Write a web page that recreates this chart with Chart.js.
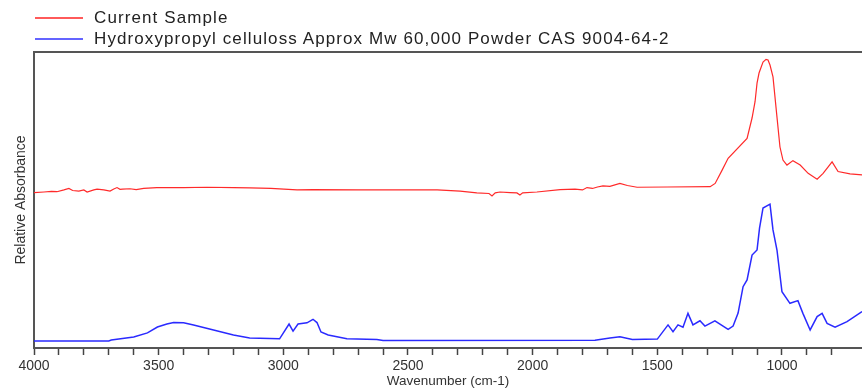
<!DOCTYPE html>
<html lang="en">
<head>
  <meta charset="utf-8">
  <title>IR Spectrum</title>
  <script src="https://cdnjs.cloudflare.com/ajax/libs/Chart.js/4.4.1/chart.umd.min.js"></script>
  <style>
    body { margin: 0; background: #fff; font-family: "Liberation Sans", Arial, sans-serif; }
    #wrap { position: relative; width: 862px; height: 389px; }
    .leg { position: absolute; left: 0; height: 20px; line-height: 20px; font-size: 17px; letter-spacing: 1.1px; color: #222; white-space: nowrap; }
    .leg span.ln { position: absolute; left: 35px; top: 9px; width: 48px; height: 2px; }
    .leg span.tx { position: absolute; left: 94px; top: 0; }
  </style>
</head>
<body>
  <div id="wrap">
    <canvas id="myChart"></canvas>
    <div class="leg" style="top:8px"><span class="ln" style="background:#ff5a5a"></span><span class="tx">Current Sample</span></div>
    <div class="leg" style="top:29px"><span class="ln" style="background:#6464ff"></span><span class="tx">Hydroxypropyl celluloss Approx Mw 60,000 Powder CAS 9004-64-2</span></div>
  </div>
  <script>
// wavenumbers (cm-1) and relative absorbance
var sampleWn = [4000, 3960, 3930, 3908, 3880, 3860, 3845, 3820, 3800, 3787, 3760, 3747, 3720, 3695, 3680, 3667, 3655, 3645, 3615, 3590, 3560, 3507, 3400, 3306, 3200, 3134, 3050, 2945, 2881, 2700, 2500, 2383, 2291, 2224, 2175, 2163, 2150, 2131, 2090, 2063, 2051, 2040, 1983, 1890, 1830, 1800, 1782, 1760, 1740, 1718, 1690, 1650, 1620, 1581, 1461, 1288, 1268, 1240, 1216, 1140, 1120, 1108, 1100, 1092, 1076, 1064, 1056, 1048, 1036, 1020, 1008, 996, 980, 956, 927, 895, 859, 835, 799, 775, 727, 679];
var sampleAbs = [52.5, 52.7, 52.9, 52.8, 53.4, 53.9, 53.2, 53.0, 53.4, 52.7, 53.4, 53.7, 53.4, 53.0, 53.7, 54.2, 53.6, 53.7, 53.8, 53.5, 53.9, 54.2, 54.2, 54.3, 54.2, 54.1, 53.9, 53.4, 53.5, 53.4, 53.4, 53.4, 53.0, 52.4, 52.2, 51.4, 52.4, 52.7, 52.5, 52.4, 51.7, 52.4, 52.7, 53.5, 53.7, 53.4, 54.2, 53.9, 54.4, 54.8, 54.6, 55.6, 54.9, 54.3, 54.4, 54.5, 55.6, 60.1, 64.1, 70.8, 77.7, 83.2, 89.5, 92.9, 96.6, 97.5, 97.3, 95.6, 91.6, 78.0, 67.9, 63.5, 61.8, 63.3, 61.8, 59.0, 57.0, 59.0, 62.9, 59.6, 58.8, 58.5];

var refWn = [4000, 3700, 3690, 3600, 3545, 3505, 3467, 3440, 3400, 3360, 3280, 3200, 3135, 3015, 2977, 2961, 2941, 2905, 2881, 2865, 2849, 2820, 2745, 2625, 2600, 1750, 1690, 1650, 1600, 1500, 1457, 1437, 1417, 1397, 1377, 1357, 1329, 1309, 1269, 1216, 1196, 1176, 1156, 1140, 1120, 1100, 1090, 1076, 1048, 1036, 1020, 1000, 968, 936, 916, 887, 859, 839, 819, 787, 739, 679];
var refAbs = [2.4, 2.4, 2.7, 3.7, 5.1, 7.1, 8.1, 8.6, 8.5, 7.8, 6.1, 4.4, 3.4, 3.1, 8.1, 5.7, 8.1, 8.5, 9.7, 8.6, 5.4, 4.4, 3.1, 2.9, 2.5, 2.6, 3.4, 3.8, 2.9, 3.0, 7.8, 5.5, 7.8, 7.0, 11.7, 7.8, 9.2, 7.4, 9.2, 6.3, 7.4, 11.8, 20.7, 23.0, 31.4, 33.1, 40.5, 47.3, 48.6, 39.9, 33.1, 19.0, 15.1, 16.0, 11.7, 6.1, 10.6, 11.7, 8.3, 7.0, 8.9, 12.3];

var seriesNames = ['Current Sample', 'Hydroxypropyl celluloss Approx Mw 60,000 Powder CAS 9004-64-2'];

function pts(xs, ys) {
  return xs.map(function (x, i) { return { x: x, y: ys[i] }; });
}

var topBorder = {
  id: 'topBorder',
  afterDraw: function (chart) {
    var a = chart.chartArea, c = chart.ctx;
    c.save();
    c.strokeStyle = '#555';
    c.lineWidth = 2;
    c.beginPath();
    c.moveTo(a.left - 1, a.top);
    c.lineTo(a.right, a.top);
    c.stroke();
    c.restore();
  }
};

var ctx = document.getElementById('myChart');
var myChart = new Chart(ctx, {
  type: 'scatter',
  data: {
    datasets: [
      { label: seriesNames[0], data: pts(sampleWn, sampleAbs), showLine: true, borderColor: '#ff2a2a', borderWidth: 1.2, pointRadius: 0, tension: 0 },
      { label: seriesNames[1], data: pts(refWn, refAbs), showLine: true, borderColor: '#2a2aff', borderWidth: 1.5, pointRadius: 0, tension: 0 }
    ]
  },
  options: {
    responsive: true,
    maintainAspectRatio: false,
    animation: false,
    layout: { padding: { top: 52, right: 0, left: 0, bottom: 0 } },
    plugins: { legend: { display: false }, tooltip: { enabled: false } },
    scales: {
      x: {
        type: 'linear',
        reverse: true,
        min: 679,
        max: 4000,
        afterFit: function (s) { s.height = 41; },
        afterBuildTicks: function (s) { s.ticks = s.ticks.filter(function (t) { return t.value % 100 === 0; }); },
        ticks: {
          stepSize: 100,
          autoSkip: false,
          maxRotation: 0,
          padding: 3,
          color: '#333',
          font: { family: '"Liberation Sans", Arial', size: 14 },
          callback: function (v) { return v % 500 === 0 ? String(v) : ''; }
        },
        grid: { display: true, drawOnChartArea: false, drawTicks: true, tickLength: 7, tickColor: '#444', tickWidth: 1.5 },
        border: { display: true, color: '#555', width: 2 },
        title: { display: true, text: 'Wavenumber (cm-1)', color: '#333', padding: { top: 0, bottom: 0 }, font: { family: '"Liberation Sans", Arial', size: 13.5 } }
      },
      y: {
        min: 0,
        max: 100,
        afterFit: function (s) { s.width = 34; },
        ticks: { display: false },
        grid: { display: false },
        border: { display: true, color: '#555', width: 2 },
        title: { display: true, text: 'Relative Absorbance', color: '#333', padding: { top: 13, bottom: 0 }, font: { family: '"Liberation Sans", Arial', size: 14 } }
      }
    }
  },
  plugins: [topBorder]
});
  </script>
</body>
</html>
